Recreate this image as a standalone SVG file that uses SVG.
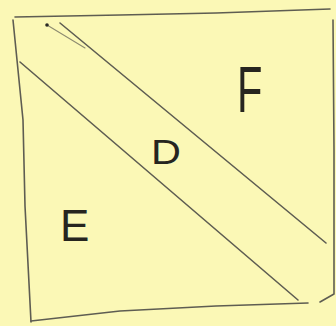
<svg xmlns="http://www.w3.org/2000/svg" width="336" height="326" viewBox="0 0 336 326">
<style>
.ln{fill:none;stroke:#5e5d52;stroke-width:1.6;stroke-linecap:round;stroke-linejoin:round}
.faint{fill:none;stroke:#8d8b70;stroke-width:1.1;stroke-linecap:round}
.lbl{font-family:"Liberation Sans",Arial,sans-serif;fill:#26251f}
</style>
<rect width="336" height="326" fill="#fbf8b6"/>
<g id="frame">
<path class="ln" d="M15,17 L120,15 L216,13 L330,9"/>
<path class="ln" d="M13,20 L23,120 L25,206 L31,322"/>
<path class="ln" d="M31,321 L120,311 L216,306 L308,303"/>
<path class="ln" d="M333,20 L334,150 L334,294 L320,302"/>
</g>
<g id="diagonals">
<path class="ln" d="M60,23 L326,243"/>
<path class="ln" d="M20,62 L298,300"/>
<path class="faint" d="M47,25 L85,48"/>
<circle cx="47" cy="25" r="1.8" fill="#2a2a24"/>
</g>
<g id="F"><text class="lbl" font-size="64" transform="translate(237,112) scale(0.65,1)">F</text></g>
<g id="D"><text class="lbl" font-size="36" transform="translate(151,164) scale(1.15,1)">D</text></g>
<g id="E"><text class="lbl" font-size="44" x="60" y="241">E</text></g>
</svg>
